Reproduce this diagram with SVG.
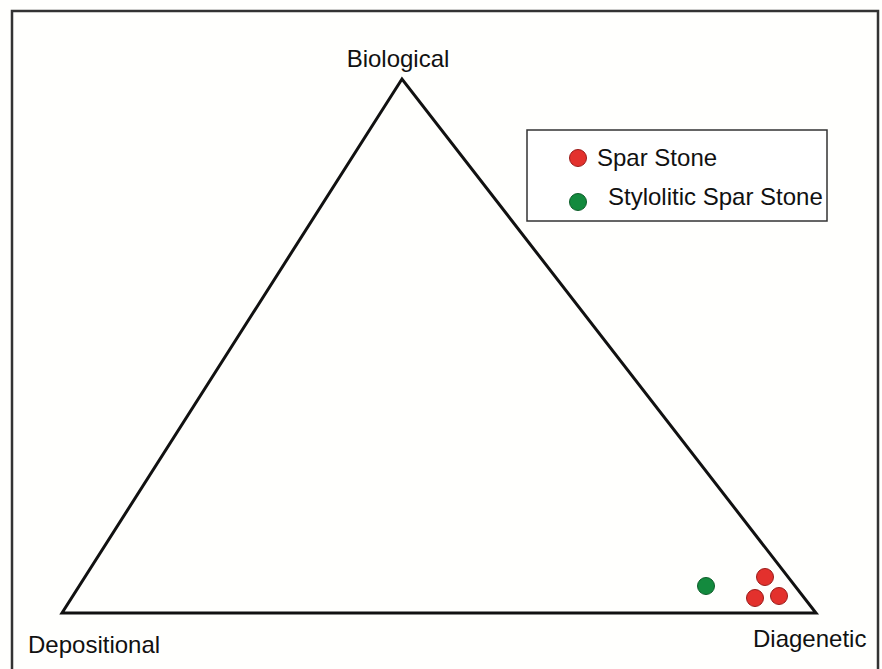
<svg xmlns="http://www.w3.org/2000/svg" width="882" height="669" viewBox="0 0 882 669">
<style>
text{font-family:"Liberation Sans",Arial,sans-serif;font-size:24px;fill:#111}
.red{fill:#e3312d;stroke:#9a1c1a;stroke-width:1}
.green{fill:#138a3e;stroke:#0d5e2a;stroke-width:1}
</style>
<rect x="0" y="0" width="882" height="669" fill="#fffffd"/>
<rect id="frame" x="12" y="11" width="866" height="680" fill="none" stroke="#333" stroke-width="2.5"/>
<g id="triangle">
<polygon points="402,79 62,613 816,613" fill="none" stroke="#111" stroke-width="3" stroke-linejoin="miter"/>
</g>
<g id="label-biological"><text x="398" y="67" text-anchor="middle">Biological</text></g>
<g id="label-depositional"><text x="28" y="653">Depositional</text></g>
<g id="label-diagenetic"><text x="753" y="647">Diagenetic</text></g>
<g id="points">
<circle class="green" cx="706" cy="586" r="8.5"/>
<circle class="red" cx="765" cy="577" r="8.5"/>
<circle class="red" cx="755" cy="598" r="8.5"/>
<circle class="red" cx="779" cy="596" r="8.5"/>
</g>
<g id="legend">
<rect x="527" y="130" width="300" height="91" fill="#fff" stroke="#333" stroke-width="1.5"/>
<circle class="red" cx="578" cy="158" r="8.5"/>
<text x="597" y="166">Spar Stone</text>
<circle class="green" cx="578" cy="202" r="8.5"/>
<text x="608" y="205">Stylolitic Spar Stone</text>
</g>
</svg>
